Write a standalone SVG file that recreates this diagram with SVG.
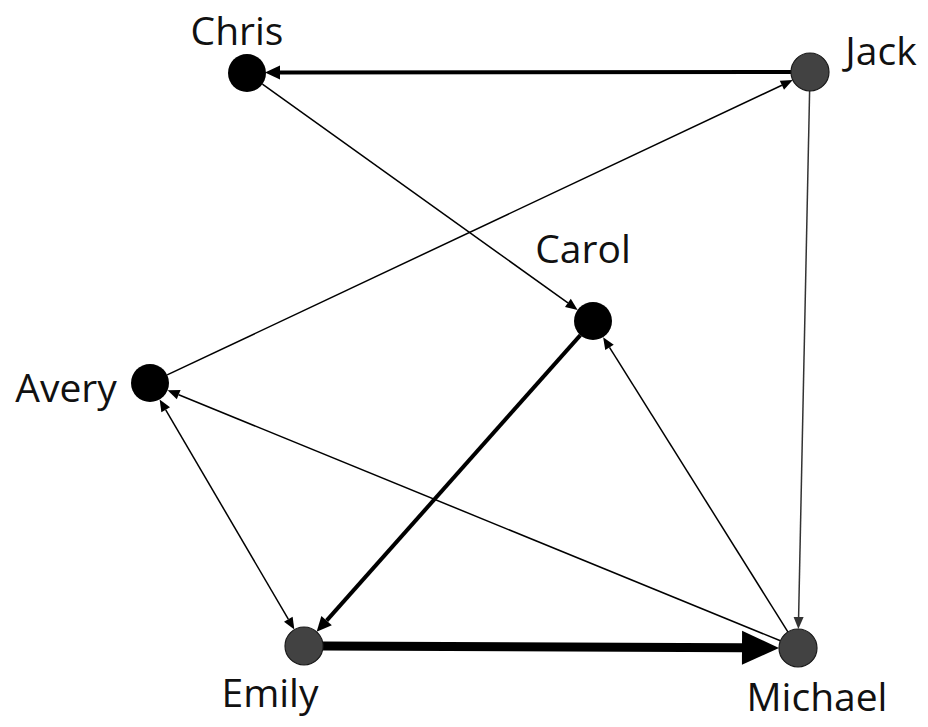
<svg xmlns="http://www.w3.org/2000/svg" width="928" height="727" viewBox="0 0 928 727">
<style>
.bg{fill:#fff}
.lbl{font-family:"Open Sans","Noto Sans",sans-serif;font-size:39px;fill:#111;text-anchor:middle}
.blk{fill:#000}
.gry{fill:#424242;stroke:#1a1a1a;stroke-width:1.2}
.e{fill:none;stroke:#000}
.thin{stroke-width:1.5}
.mid{stroke-width:4}
.fat{stroke-width:9}
</style>
<defs>
<marker id="aThin" markerUnits="userSpaceOnUse" markerWidth="13" markerHeight="11" refX="0" refY="5" orient="auto-start-reverse" overflow="visible">
<path d="M0,0 L12,5 L0,10 z" fill="#000"/>
</marker>
<marker id="aThinG" markerUnits="userSpaceOnUse" markerWidth="13" markerHeight="11" refX="0" refY="5" orient="auto" overflow="visible">
<path d="M0,0 L12,5 L0,10 z" fill="#333"/>
</marker>
<marker id="aMid" markerUnits="userSpaceOnUse" markerWidth="17" markerHeight="15" refX="0" refY="7" orient="auto" overflow="visible">
<path d="M0,0 L15,7 L0,14 z" fill="#000"/>
</marker>
<marker id="aFat" markerUnits="userSpaceOnUse" markerWidth="38" markerHeight="35" refX="0" refY="17" orient="auto" overflow="visible">
<path d="M0,0 L37,17 L0,34 z" fill="#000"/>
</marker>
</defs>
<rect class="bg" x="0" y="0" width="928" height="727"/>
<g id="connectors">
<line class="e mid" x1="791" y1="72" x2="280" y2="72.6" marker-end="url(#aMid)"/>
<line class="e thin" x1="262.4" y1="84.1" x2="567.9" y2="302.9" marker-end="url(#aThin)"/>
<line class="e thin" x1="167.2" y1="374.9" x2="781.9" y2="85.2" marker-end="url(#aThin)"/>
<line class="e thin" x1="809.6" y1="91" x2="798.6" y2="617" style="stroke:#333" marker-end="url(#aThinG)"/>
<line class="e mid" x1="580.4" y1="335.2" x2="326.6" y2="620.6" marker-end="url(#aMid)"/>
<line class="e fat" x1="323" y1="646.1" x2="742" y2="647.8" marker-end="url(#aFat)"/>
<line class="e thin" x1="787.9" y1="631.9" x2="609.5" y2="347.3" marker-end="url(#aThin)"/>
<line class="e thin" x1="780.4" y1="640.8" x2="178.7" y2="394.7" marker-end="url(#aThin)"/>
<line class="e thin" x1="165.7" y1="409.8" x2="288.3" y2="619.2" marker-start="url(#aThin)" marker-end="url(#aThin)"/>
</g>
<g id="node-chris"><circle class="blk" cx="247" cy="73" r="19"/><text class="lbl" x="237" y="45">Chris</text></g>
<g id="node-jack"><circle class="gry" cx="810" cy="72" r="19"/><text class="lbl" x="881" y="65">Jack</text></g>
<g id="node-carol"><circle class="blk" cx="593" cy="321" r="19"/><text class="lbl" x="583" y="263">Carol</text></g>
<g id="node-avery"><circle class="blk" cx="150" cy="383" r="19"/><text class="lbl" x="66" y="402">Avery</text></g>
<g id="node-emily"><circle class="gry" cx="304" cy="646" r="19"/><text class="lbl" x="270" y="707">Emily</text></g>
<g id="node-michael"><circle class="gry" cx="798" cy="648" r="19"/><text class="lbl" x="817" y="711">Michael</text></g>
</svg>
